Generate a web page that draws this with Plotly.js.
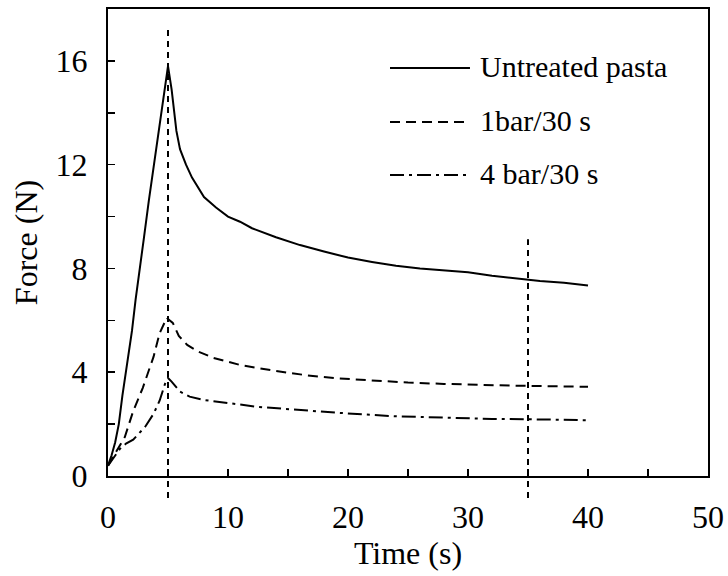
<!DOCTYPE html>
<html>
<head>
<meta charset="utf-8">
<script src="https://cdn.plot.ly/plotly-3.0.1.min.js"></script>
<style>html,body{margin:0;padding:0;background:#fff}#chart{width:728px;height:576px}</style>
</head>
<body>
<div id="chart"></div>
<script>
// ---- data ----
const seriesNames = ["Untreated pasta", "1bar/30 s", "4 bar/30 s"];

const tUntreated = [0, 0.3, 0.6, 0.9, 1.2, 1.6, 2.0, 2.3, 2.7, 3.0, 3.4, 3.8, 4.2, 4.6, 4.9, 5.0, 5.3, 5.7, 6.0, 6.5, 7.0, 8.0, 9.0, 10, 11, 12, 14, 16, 18, 20, 22, 24, 26, 28, 30, 32, 34, 35, 36, 38, 40];
const fUntreated = [0.4, 0.8, 1.3, 2.0, 3.1, 4.3, 5.6, 6.8, 8.1, 9.2, 10.6, 11.9, 13.2, 14.5, 15.4, 15.8, 14.9, 13.3, 12.6, 12.0, 11.5, 10.75, 10.35, 10.0, 9.8, 9.55, 9.2, 8.9, 8.65, 8.42, 8.25, 8.1, 8.0, 7.92, 7.85, 7.72, 7.62, 7.56, 7.52, 7.45, 7.34];

const t1bar = [0, 0.5, 1.0, 1.4, 2.1, 2.9, 3.8, 4.3, 4.9, 5.0, 5.4, 5.9, 6.6, 7.5, 8.8, 11, 13.8, 16.6, 19, 22, 25, 28, 31, 34, 37, 40];
const f1bar = [0.4, 0.8, 1.2, 1.5, 2.5, 3.4, 4.6, 5.5, 6.1, 6.05, 5.9, 5.4, 5.05, 4.8, 4.55, 4.28, 4.06, 3.88, 3.77, 3.68, 3.6, 3.55, 3.51, 3.48, 3.46, 3.44];

const t4bar = [0, 0.5, 1.0, 1.5, 2.1, 3.1, 3.8, 4.3, 4.75, 5.0, 5.3, 6.0, 6.8, 8, 9.6, 12.4, 15.2, 19, 24, 28, 32, 36, 40];
const f4bar = [0.4, 0.75, 1.05, 1.25, 1.4, 1.9, 2.4, 2.9, 3.55, 3.78, 3.64, 3.25, 3.06, 2.93, 2.83, 2.67, 2.57, 2.44, 2.3, 2.24, 2.2, 2.18, 2.15];

const markerTimes = [5, 35];
const markerTops = [0.961, 0.507];   // top of each vertical marker line (paper fraction)

const xTickVals = [0, 10, 20, 30, 40, 50];
const yTickVals = [0, 4, 8, 12, 16];

// ---- styling ----
const FONT = "'Liberation Serif', 'Times New Roman', 'DejaVu Serif', serif";
const AX = 32;
const dashes = ["solid", "10px,6px", "14px,5px,3px,5px"];

const traces = [
  {x: tUntreated, y: fUntreated},
  {x: t1bar, y: f1bar},
  {x: t4bar, y: f4bar}
].map((d, i) => ({
  x: d.x, y: d.y, type: "scatter", mode: "lines", name: seriesNames[i],
  line: {color: "#000", width: 2, dash: dashes[i]}, showlegend: false
}));

const shapes = markerTimes.map((t, i) => ({
  type: "line", xref: "x", yref: "paper", x0: t, x1: t, y0: -0.047, y1: markerTops[i],
  line: {color: "#000", width: 2, dash: "6px,5px"}
}));

// legend drawn as decorations
const legRowsY = [0.8737, 0.758, 0.6445];
const annotations = [];
seriesNames.forEach((n, i) => {
  shapes.push({type: "line", xref: "paper", yref: "paper", x0: 0.47, x1: 0.6033,
    y0: legRowsY[i], y1: legRowsY[i], line: {color: "#000", width: 2, dash: dashes[i]}});
  annotations.push({xref: "paper", yref: "paper", x: 0.6167, y: legRowsY[i] + 0.004,
    xanchor: "left", yanchor: "middle", text: n, showarrow: false,
    font: {family: FONT, size: 30, color: "#000"}});
});

const layout = {
  width: 728, height: 576,
  margin: {l: 108, r: 20, t: 9, b: 100},
  paper_bgcolor: "#fff", plot_bgcolor: "#fff",
  font: {family: FONT, size: AX, color: "#000"},
  showlegend: false,
  xaxis: {
    range: [0, 50], tickvals: xTickVals, ticktext: xTickVals.map(String),
    ticks: "inside", ticklen: 7, tickwidth: 1.5, tickcolor: "#000",
    minor: {dtick: 5, tick0: 0, ticks: "inside", ticklen: 7, tickwidth: 1.5, tickcolor: "#000"},
    showline: true, linewidth: 2, linecolor: "#000", mirror: true,
    showgrid: false, zeroline: false, ticklabelstandoff: 12,
    tickfont: {family: FONT, size: AX},
    title: {text: "Time (s)", font: {family: FONT, size: AX}, standoff: 0}
  },
  yaxis: {
    range: [0, 18], tickvals: yTickVals, ticktext: yTickVals.map(String),
    ticks: "inside", ticklen: 7, tickwidth: 1.5, tickcolor: "#000",
    minor: {dtick: 2, tick0: 0, ticks: "inside", ticklen: 7, tickwidth: 1.5, tickcolor: "#000"},
    showline: true, linewidth: 2, linecolor: "#000", mirror: true,
    showgrid: false, zeroline: false, ticklabelstandoff: 12,
    tickfont: {family: FONT, size: AX},
    title: {text: "Force (N)", font: {family: FONT, size: AX}, standoff: 8}
  },
  shapes: shapes,
  annotations: annotations
};

Plotly.newPlot("chart", traces, layout, {displayModeBar: false, staticPlot: true});
</script>
</body>
</html>
